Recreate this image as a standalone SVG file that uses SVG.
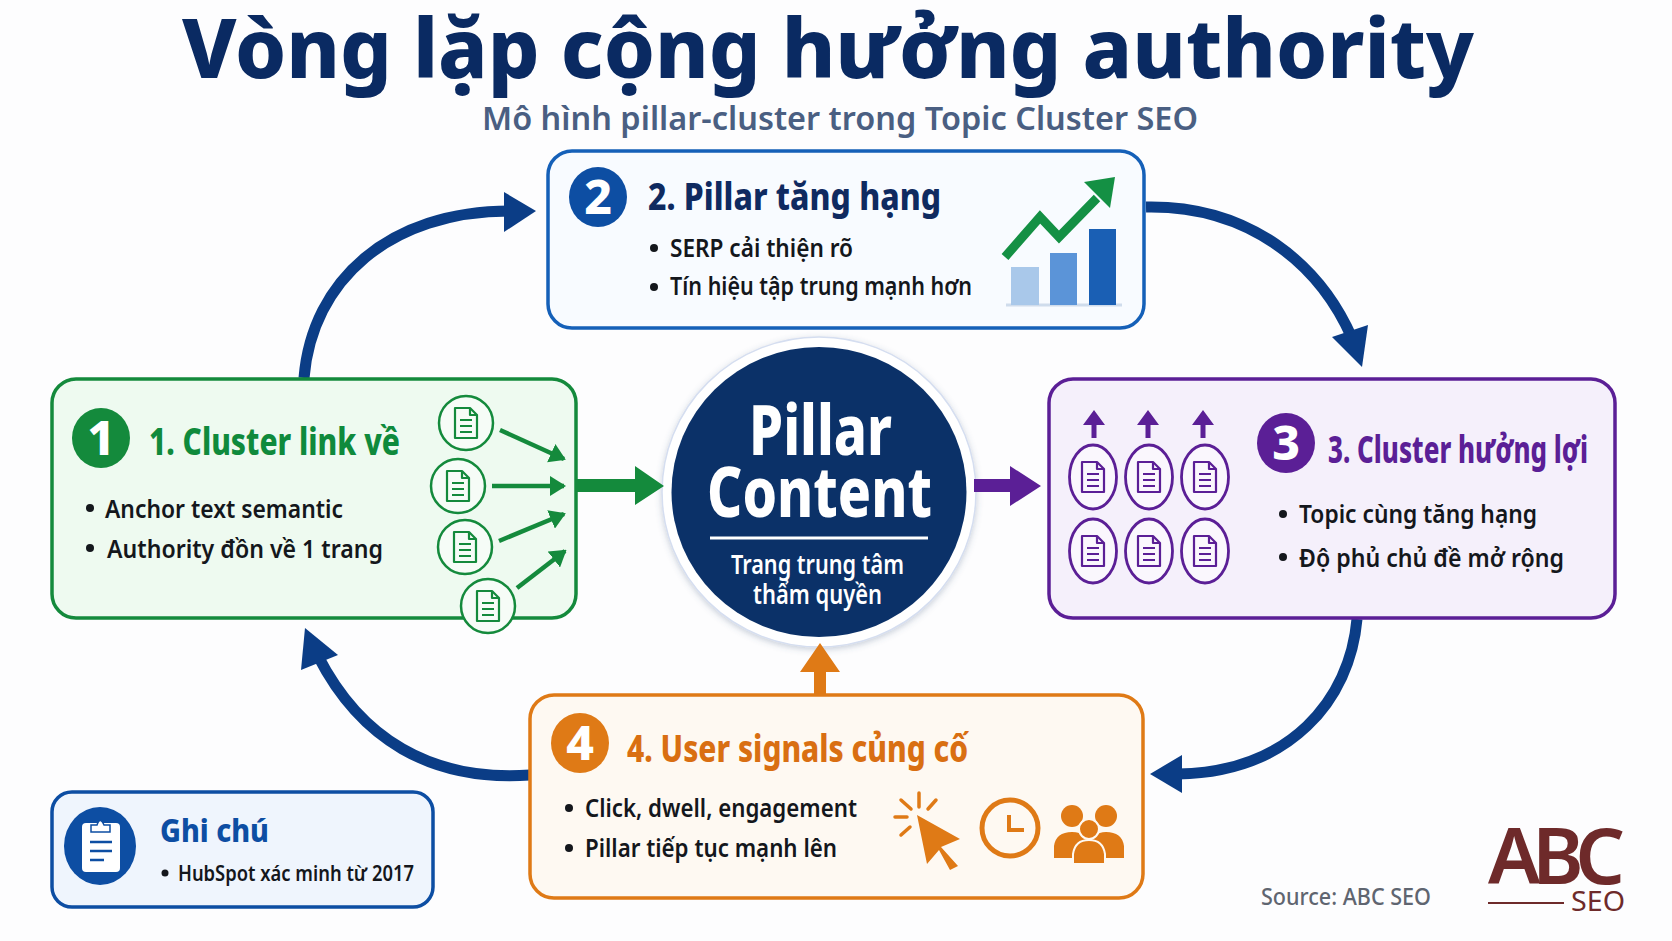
<svg xmlns="http://www.w3.org/2000/svg" width="1672" height="941" viewBox="0 0 1672 941">
<style>
text{font-family:"Noto Sans","Open Sans","Liberation Sans",sans-serif}
.box{stroke-width:3.500}
.hd{font-size:37px;font-weight:800}
.bl{font-size:25px;font-weight:600;fill:#14171c}
.dot{fill:#14171c}
.num{font-size:48px;font-weight:800;fill:#fff;text-anchor:middle}
.flow{fill:none;stroke:#0b3d86;stroke-width:11}
.flowhead{fill:#0b3d86}
.doc{fill:none;stroke:currentColor;stroke-width:2.2;stroke-linejoin:round}
.g{color:#148a3c}.p{color:#5b1f96}
.sm{stroke:#148a3c;stroke-width:4.500;fill:none}
.o{fill:#df7a16}
.ol{stroke:#df7a16;stroke-linecap:round;fill:none}
.wh{fill:#fff}
</style>
<defs>
<g id="doc"><path class="doc" d="M-11-15H4L11-8V15H-11Z"/><path class="doc" d="M4-15V-8H11"/><path class="doc" d="M-6-3H6M-6 3H6M-6 9H6"/></g>
<marker id="smh" viewBox="0 0 16 20" refX="14" refY="10" markerUnits="userSpaceOnUse" markerWidth="16" markerHeight="20" orient="auto"><path d="M0 0L16 10L0 20Z" fill="#148a3c"/></marker>
<filter id="soft" x="-10%" y="-10%" width="120%" height="125%"><feDropShadow dx="0" dy="2" stdDeviation="3" flood-color="#4a5f82" flood-opacity=".3"/></filter>
</defs>
<rect width="1672" height="941" fill="#fdfdfe"/>
<g id="title">
<text x="182" y="78" font-size="82" font-weight="800" fill="#0a2a62" textLength="1292" lengthAdjust="spacingAndGlyphs">Vòng lặp cộng hưởng authority</text>
<text x="482" y="130" font-size="33" font-weight="600" fill="#4a5f82" textLength="716" lengthAdjust="spacingAndGlyphs">Mô hình pillar-cluster trong Topic Cluster SEO</text>
</g>
<g id="node-center">
<ellipse cx="819" cy="492" rx="157" ry="155" fill="#fff" stroke="#d5def0" stroke-width="1.500" filter="url(#soft)"/>
<ellipse cx="819" cy="492" rx="147.500" ry="145" fill="#0b3168"/>
<text x="749" y="455" font-size="70" font-weight="800" class="wh" textLength="143" lengthAdjust="spacingAndGlyphs">Pillar</text>
<text x="707" y="517" font-size="70" font-weight="800" class="wh" textLength="225" lengthAdjust="spacingAndGlyphs">Content</text>
<line x1="710" y1="538" x2="928" y2="538" stroke="#fff" stroke-width="3"/>
<text x="731" y="574" font-size="27" font-weight="600" class="wh" textLength="173" lengthAdjust="spacingAndGlyphs">Trang trung tâm</text>
<text x="753" y="604" font-size="27" font-weight="600" class="wh" textLength="129" lengthAdjust="spacingAndGlyphs">thẩm quyền</text>
</g>
<g id="connectors">
<path class="flow" d="M304 378C312 280 390 211 510 211"/><path class="flowhead" d="M504 192L536 211L504 232Z"/>
<path class="flow" d="M1146 207C1250 205 1320 265 1352 338"/><path class="flowhead" d="M1332 337L1368 325L1362 367Z"/>
<path class="flow" d="M1357 619C1350 700 1290 772 1178 774"/><path class="flowhead" d="M1182 755L1150 774L1182 793Z"/>
<path class="flow" d="M530 775C430 782 360 738 318 656"/><path class="flowhead" d="M338 655L305 628L301 670Z"/>
<path fill="#148a3c" d="M577 479H635V466L664 486L635 505V492H577Z"/>
<path fill="#5b1f96" d="M974 479H1010V466L1041 486L1010 506V492H974Z"/>
<path class="o" d="M814 694V672H800L820 643L840 672H826V694Z"/>
</g>
<g id="node-2">
<rect class="box" x="548" y="151" width="596" height="177" rx="24" fill="#f8fbff" stroke="#1560b8"/>
<ellipse cx="598" cy="197" rx="29" ry="30" fill="#0d4ea3"/>
<text class="num" x="598" y="214">2</text>
<text class="hd" x="648" y="210" fill="#0f2a60" textLength="293" lengthAdjust="spacingAndGlyphs">2. Pillar tăng hạng</text>
<circle class="dot" cx="654" cy="248" r="4"/>
<text class="bl" x="670" y="257" textLength="183" lengthAdjust="spacingAndGlyphs">SERP cải thiện rõ</text>
<circle class="dot" cx="654" cy="287" r="4"/>
<text class="bl" x="670" y="295" textLength="302" lengthAdjust="spacingAndGlyphs">Tín hiệu tập trung mạnh hơn</text>
<line x1="1006" y1="305" x2="1122" y2="305" stroke="#cfdcec" stroke-width="3"/>
<rect x="1011" y="267" width="28" height="38" fill="#a9c8ea"/>
<rect x="1050" y="253" width="27" height="52" fill="#5b94d8"/>
<rect x="1089" y="229" width="27" height="76" fill="#1a5fb4"/>
<path d="M1005 257L1040 217L1059 237L1097 198" fill="none" stroke="#149044" stroke-width="9"/>
<path d="M1084 182L1115 177L1110 208Z" fill="#149044"/>
</g>
<g id="node-1">
<rect class="box" x="52" y="379" width="524" height="239" rx="24" fill="#eefaf0" stroke="#148a3c"/>
<ellipse cx="101" cy="438" rx="29" ry="30" fill="#148a3c"/>
<text class="num" x="101" y="455">1</text>
<text class="hd" x="149" y="455" fill="#0f8a3c" textLength="251" lengthAdjust="spacingAndGlyphs">1. Cluster link về</text>
<circle class="dot" cx="90" cy="508" r="4"/>
<text class="bl" x="105" y="518" textLength="238" lengthAdjust="spacingAndGlyphs">Anchor text semantic</text>
<circle class="dot" cx="90" cy="548" r="4"/>
<text class="bl" x="107" y="558" textLength="276" lengthAdjust="spacingAndGlyphs">Authority đồn về 1 trang</text>
<g class="g">
<circle cx="466" cy="423" r="27" fill="#f6fcf7" stroke="#148a3c" stroke-width="2.500"/><use href="#doc" x="466" y="423"/>
<circle cx="458" cy="486" r="27" fill="#f6fcf7" stroke="#148a3c" stroke-width="2.500"/><use href="#doc" x="458" y="486"/>
<circle cx="465" cy="547" r="27" fill="#f6fcf7" stroke="#148a3c" stroke-width="2.500"/><use href="#doc" x="465" y="547"/>
<circle cx="488" cy="606" r="27" fill="#f6fcf7" stroke="#148a3c" stroke-width="2.500"/><use href="#doc" x="488" y="606"/>
</g>
<line class="sm" x1="500" y1="430" x2="564" y2="459" marker-end="url(#smh)"/>
<line class="sm" x1="492" y1="486" x2="564" y2="486" marker-end="url(#smh)"/>
<line class="sm" x1="499" y1="541" x2="564" y2="514" marker-end="url(#smh)"/>
<line class="sm" x1="517" y1="588" x2="565" y2="551" marker-end="url(#smh)"/>
</g>
<g id="node-3">
<rect class="box" x="1049" y="379" width="566" height="239" rx="24" fill="#f5f0fb" stroke="#5b1f96"/>
<g fill="#5b1f96">
<path d="M1094 410L1105 425H1096.500V438H1091.500V425H1083Z"/>
<path d="M1148 410L1159 425H1150.500V438H1145.500V425H1137Z"/>
<path d="M1203 410L1214 425H1205.500V438H1200.500V425H1192Z"/>
</g>
<g class="p" fill="#faf7fd" stroke="#5b1f96" stroke-width="2.800">
<ellipse cx="1093" cy="477" rx="23.500" ry="32"/><ellipse cx="1149" cy="477" rx="23.500" ry="32"/><ellipse cx="1205" cy="477" rx="23.500" ry="32"/>
<ellipse cx="1093" cy="551" rx="23.500" ry="32"/><ellipse cx="1149" cy="551" rx="23.500" ry="32"/><ellipse cx="1205" cy="551" rx="23.500" ry="32"/>
</g>
<g class="p">
<use href="#doc" x="1093" y="477"/><use href="#doc" x="1149" y="477"/><use href="#doc" x="1205" y="477"/>
<use href="#doc" x="1093" y="551"/><use href="#doc" x="1149" y="551"/><use href="#doc" x="1205" y="551"/>
</g>
<ellipse cx="1286" cy="443" rx="29" ry="30" fill="#5b1f96"/>
<text class="num" x="1286" y="460">3</text>
<text class="hd" x="1328" y="463" fill="#5b1f96" textLength="260" lengthAdjust="spacingAndGlyphs">3. Cluster hưởng lợi</text>
<circle class="dot" cx="1283" cy="514" r="4"/>
<text class="bl" x="1299" y="523" textLength="238" lengthAdjust="spacingAndGlyphs">Topic cùng tăng hạng</text>
<circle class="dot" cx="1283" cy="557" r="4"/>
<text class="bl" x="1299" y="567" textLength="265" lengthAdjust="spacingAndGlyphs">Độ phủ chủ đề mở rộng</text>
</g>
<g id="node-4">
<rect class="box" x="530" y="695" width="613" height="203" rx="24" fill="#fef9f2" stroke="#df7a16"/>
<ellipse cx="580" cy="743" rx="29" ry="30" fill="#df7a16"/>
<text class="num" x="580" y="760">4</text>
<text class="hd" x="627" y="762" fill="#d96f12" textLength="341" lengthAdjust="spacingAndGlyphs">4. User signals củng cố</text>
<circle class="dot" cx="569" cy="808" r="4"/>
<text class="bl" x="585" y="817" textLength="272" lengthAdjust="spacingAndGlyphs">Click, dwell, engagement</text>
<circle class="dot" cx="569" cy="848" r="4"/>
<text class="bl" x="585" y="857" textLength="252" lengthAdjust="spacingAndGlyphs">Pillar tiếp tục mạnh lên</text>
<path class="o" d="M917 815L960 839L941 847L958 866L950 870L939 850L927 864Z"/>
<path class="ol" stroke-width="3.500" d="M919 793V807M895 817H907M901 800L911 809M936 800L928 809M901 835L910 827"/>
<circle cx="1010" cy="828" r="28" fill="none" stroke="#df7a16" stroke-width="5"/>
<path d="M1009 815V830H1024" fill="none" stroke="#df7a16" stroke-width="4"/>
<circle class="o" cx="1072" cy="816" r="11"/><circle class="o" cx="1106" cy="816" r="11"/>
<path class="o" d="M1054 858V846Q1056 832 1072 832Q1088 832 1090 846V858ZM1090 858V846Q1092 832 1106 832Q1122 832 1124 846V858Z"/>
<circle class="o" cx="1089" cy="829" r="10" stroke="#fef9f2" stroke-width="2"/>
<path class="o" stroke="#fef9f2" stroke-width="2" d="M1073 864V854Q1075 840 1089 840Q1103 840 1105 854V864Z"/>
</g>
<g id="node-note">
<rect class="box" x="52" y="792" width="381" height="115" rx="20" fill="#eff5fd" stroke="#0d4ea3"/>
<ellipse cx="100" cy="846" rx="36" ry="39" fill="#0d4ea3"/>
<rect class="wh" x="82" y="823" width="38" height="49" rx="4"/>
<path class="wh" stroke="#0d4ea3" stroke-width="1.500" d="M91 832V825H97Q100 816 104 825H110V832Z"/>
<path d="M90 842H112M90 851H112M90 860H104" stroke="#0d4ea3" stroke-width="2.500"/>
<text x="160" y="842" font-size="32" font-weight="800" fill="#0d4ea3" textLength="109" lengthAdjust="spacingAndGlyphs">Ghi chú</text>
<circle class="dot" cx="165" cy="873" r="3.500"/>
<text x="178" y="881" font-size="22" font-weight="600" fill="#14171c" textLength="236" lengthAdjust="spacingAndGlyphs">HubSpot xác minh từ 2017</text>
</g>
<g id="footer">
<text x="1261" y="905" font-size="23" font-weight="500" fill="#5f6570" textLength="170" lengthAdjust="spacingAndGlyphs">Source: ABC SEO</text>
<text x="1488" y="884" font-size="78" font-weight="600" fill="#6e2a2a" textLength="137" lengthAdjust="spacing">ABC</text>
<line x1="1488" y1="903" x2="1564" y2="903" stroke="#6e2a2a" stroke-width="2"/>
<text x="1571" y="911" font-size="27" fill="#6e2a2a" textLength="54" lengthAdjust="spacingAndGlyphs">SEO</text>
</g>
</svg>
